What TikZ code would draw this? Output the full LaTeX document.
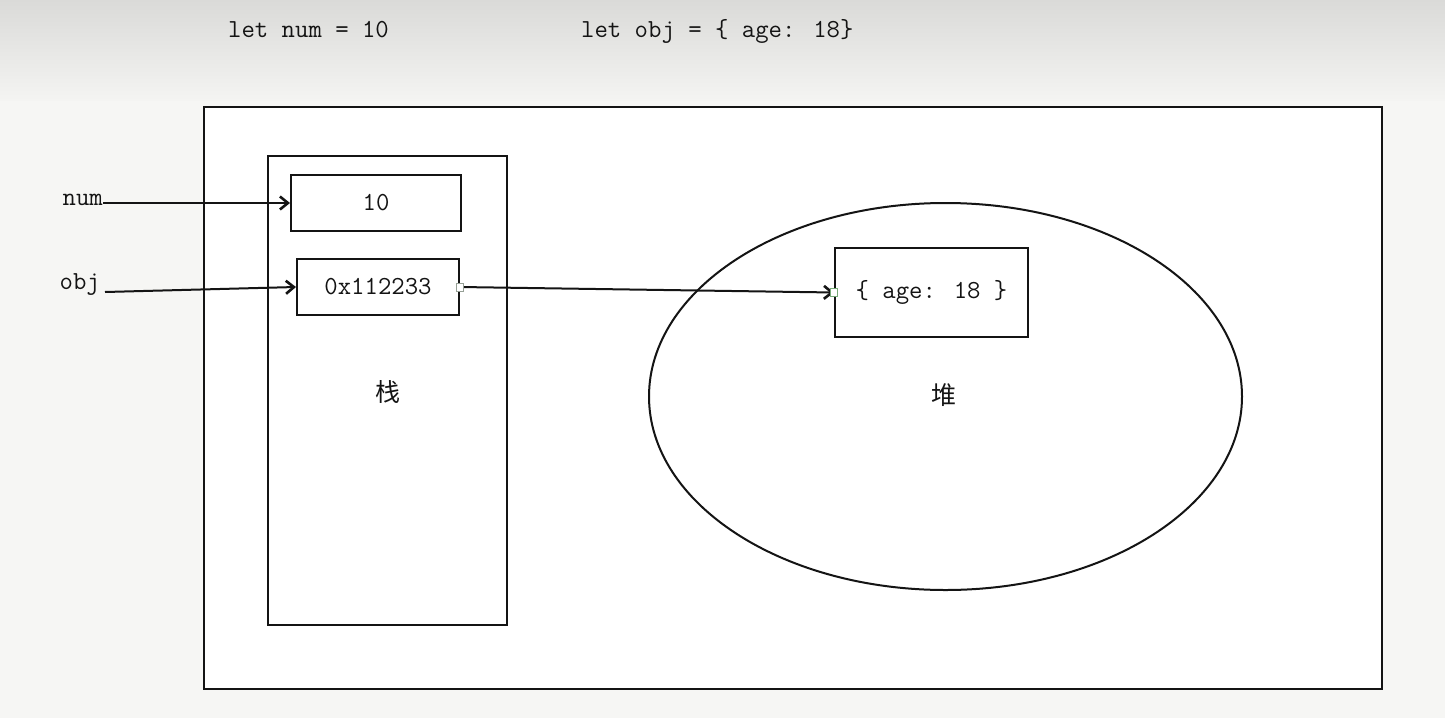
\documentclass[tikz,border=0pt]{standalone}
\usepackage{fontspec}
\newfontfamily\cjk{Noto Sans CJK SC}
\usetikzlibrary{arrows.meta,shapes.geometric}
\definecolor{bgtop}{RGB}{218,218,216}
\definecolor{bgmid}{RGB}{244,244,242}
\definecolor{bgmain}{RGB}{246,246,244}
\definecolor{ink}{RGB}{20,20,20}
\definecolor{hand}{RGB}{150,160,150}
\begin{document}
\begin{tikzpicture}[x=1pt,y=-1pt,
  box/.style={draw=ink, line width=2pt, fill=white, inner sep=0pt, minimum width=#1},
  txt/.style={text=ink, font=\ttfamily\fontsize{26}{26}\selectfont\addfontfeatures{FakeBold=0.5}, inner sep=0pt},
  cjktxt/.style={text=ink, font=\cjk\fontsize{25}{25}\selectfont, inner sep=0pt},
  link/.style={draw=ink, line width=2pt, -{Straight Barb[length=8pt,width=13pt,line width=2.6pt]}},
  handle/.style={draw=hand, line width=1pt, fill=white, minimum width=7pt, minimum height=8pt, inner sep=0pt}
]
% background
\useasboundingbox (0,0) rectangle (1445,718);
\fill[bgmain] (0,0) rectangle (1445,718);
\shade[top color=bgtop, bottom color=bgmid] (0,0) rectangle (1445,100);

% code lines
\node[txt, anchor=base west] (code1) at (228,37) {let num = 10};
\node[txt, anchor=base west] (code2) at (581,37) {let obj = \{ age: 18\}};

% outer frame
\node[box=1178pt, minimum height=582pt] (frame) at (793,398) {};

% stack
\node[box=239pt, minimum height=469pt] (stack) at (387.5,390.5) {};
\node[box=170pt, minimum height=56pt] (numbox) at (376,203) {};
\node[txt] at (numbox) {10};
\node[box=162pt, minimum height=56pt] (objbox) at (378,287) {};
\node[txt] at (objbox) {0x112233};
\node[cjktxt] (stacklbl) at (388,392) {栈};

% heap
\node[draw=ink, line width=2pt, ellipse, minimum width=593pt, minimum height=387pt, inner sep=0pt] (heap) at (945.5,396.5) {};
\node[box=193pt, minimum height=89pt] (agebox) at (931.5,292.5) {};
\node[txt] at (agebox) {\{ age: 18 \}};
\node[cjktxt] (heaplbl) at (944,395) {堆};

% variable labels
\node[txt, anchor=east] (numlbl) at (103,200) {num};
\node[txt, anchor=east] (objlbl) at (100,285) {obj};
\coordinate (objstart) at (105,292);

% connectors
\draw[link] (numlbl.east |- numbox.west) -- (numbox.west);
\draw[link] (objstart) -- (objbox.west);
\draw[link] (objbox.east) -- (agebox.west);

% connection handles
\node[handle] (h1) at (objbox.east) {};
\node[handle, draw={rgb,255:red,120;green,170;blue,120}] (h2) at (agebox.west) {};
\end{tikzpicture}
\end{document}
